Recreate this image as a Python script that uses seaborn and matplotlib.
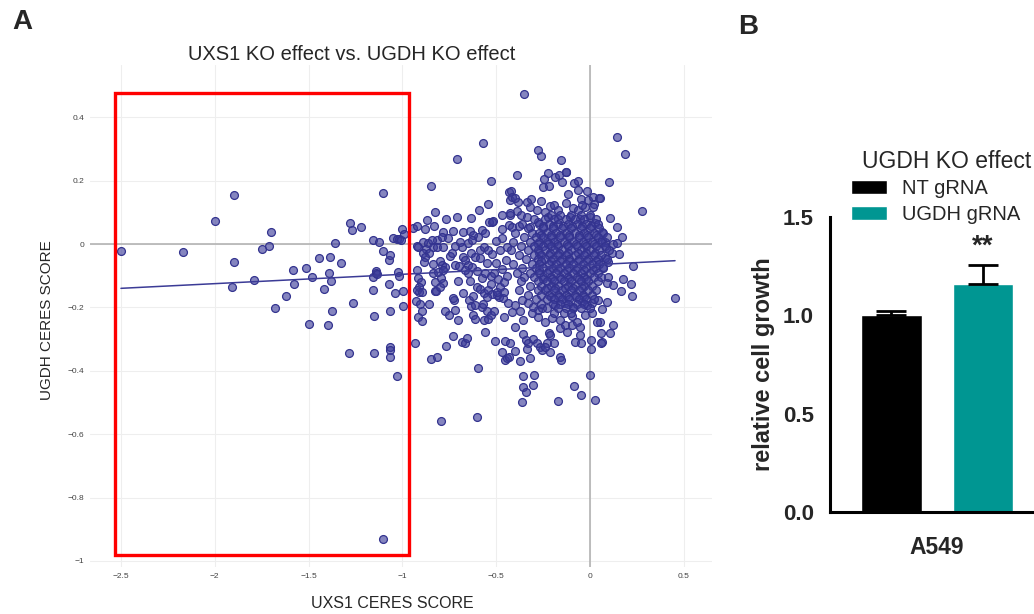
import numpy as np
import pandas as pd
import seaborn as sns
import matplotlib.pyplot as plt
from matplotlib.patches import Rectangle
from matplotlib.ticker import FuncFormatter

# ---- Panel A: UXS1 vs UGDH CERES scores (per region) ----
# points inside the red box (strong UXS1 dependency)
box_pts = [
    (-2.50, -0.023), (-2.17, -0.024), (-2.00, 0.073), (-1.90, 0.156), (-1.90, -0.056),
    (-1.91, -0.135), (-1.79, -0.113), (-1.75, -0.017), (-1.71, -0.005), (-1.70, 0.039),
    (-1.68, -0.203), (-1.62, -0.163), (-1.585, -0.081), (-1.58, -0.126), (-1.515, -0.075),
    (-1.496, -0.252), (-1.483, -0.103), (-1.446, -0.045), (-1.416, -0.143), (-1.398, -0.254),
    (-1.393, -0.091), (-1.384, -0.042), (-1.382, -0.115), (-1.375, -0.212), (-1.357, 0.004),
    (-1.327, -0.061), (-1.279, 0.068), (-1.270, 0.043), (-1.265, -0.187), (-1.221, 0.055),
    (-1.157, 0.012), (-1.158, -0.105), (-1.158, -0.146), (-1.153, -0.226), (-1.142, -0.085),
    (-1.140, -0.090), (-1.138, -0.093), (-1.126, 0.006), (-1.105, 0.160), (-1.105, -0.022),
    (-1.073, -0.126), (-1.073, -0.051), (-1.068, -0.034), (-1.064, -0.211), (-1.048, 0.018),
    (-1.038, -0.156), (-1.028, 0.016), (-1.020, 0.015), (-1.010, 0.013), (-1.022, -0.088),
    (-1.018, -0.100), (-1.002, 0.048), (-0.998, -0.147), (-0.995, -0.197), (-0.993, 0.033),
    (-1.285, -0.343), (-1.151, -0.343), (-1.068, -0.326), (-1.066, -0.333), (-1.068, -0.357),
    (-1.029, -0.415), (-1.102, -0.930),
]

# between the box and the main cluster
mid_pts = [
    (-0.945, 0.051), (-0.921, 0.058), (-0.924, -0.005), (-0.933, -0.312),
    (-0.796, -0.557), (-0.602, -0.547), (-0.599, -0.391), (-0.846, -0.364), (-0.817, -0.357),
    (-0.768, -0.323), (-0.732, -0.291), (-0.682, -0.309), (-0.666, -0.313), (-0.657, -0.295),
    (-0.929, -0.179), (-0.906, -0.190), (-0.897, -0.212), (-0.917, -0.229), (-0.896, -0.243),
    (-0.858, -0.189), (-0.825, -0.149), (-0.910, -0.151), (-0.773, -0.212), (-0.752, -0.224),
    (-0.718, -0.209), (-0.702, -0.241), (-0.725, -0.175), (-0.643, -0.177), (-0.636, -0.196),
    (-0.613, -0.192), (-0.622, -0.164), (-0.625, -0.224), (-0.611, -0.238), (-0.577, -0.198),
    (-0.569, -0.189), (-0.565, -0.240), (-0.542, -0.238), (-0.547, -0.212), (-0.529, -0.223),
    (-0.510, -0.212), (-0.457, -0.229), (-0.483, -0.166), (-0.462, -0.171), (-0.497, -0.161),
    (-0.561, -0.279), (-0.506, -0.307), (-0.469, -0.341), (-0.455, -0.366), (-0.441, -0.359),
    (-0.451, -0.306),
    (-0.711, 0.268), (-0.846, 0.184), (-0.529, 0.200), (-0.544, 0.127), (-0.590, 0.109),
    (-0.825, 0.102), (-0.709, 0.085), (-0.766, 0.078), (-0.633, 0.081), (-0.869, 0.075),
    (-0.469, 0.091), (-0.537, 0.070), (-0.515, 0.074), (-0.880, 0.049), (-0.833, 0.056),
    (-0.782, 0.038), (-0.729, 0.040), (-0.679, 0.038), (-0.640, 0.041), (-0.574, 0.045),
    (-0.561, 0.034), (-0.595, 0.021), (-0.622, 0.028), (-0.817, 0.013), (-0.790, 0.021),
    (-0.759, 0.018), (-0.888, 0.007), (-0.862, 0.004), (-0.844, 0.012), (-0.915, -0.008),
    (-0.874, -0.017), (-0.835, -0.010), (-0.814, -0.010), (-0.785, -0.010), (-0.720, -0.006),
    (-0.684, -0.008), (-0.693, 0.006), (-0.650, 0.004), (-0.631, 0.013), (-0.892, -0.029),
    (-0.857, -0.027), (-0.880, -0.042), (-0.885, -0.057), (-0.800, -0.054), (-0.791, -0.066),
    (-0.773, -0.072), (-0.835, -0.063), (-0.746, -0.038), (-0.737, -0.029), (-0.675, -0.042),
    (-0.666, -0.050), (-0.636, -0.027), (-0.613, -0.040), (-0.586, -0.019), (-0.565, -0.008),
    (-0.542, -0.019), (-0.586, -0.045), (-0.720, -0.066), (-0.697, -0.069), (-0.649, -0.066),
    (-0.631, -0.072), (-0.924, -0.082), (-0.915, -0.108), (-0.902, -0.119), (-0.910, -0.135),
    (-0.924, -0.145), (-0.897, -0.150), (-0.835, -0.091), (-0.809, -0.087), (-0.782, -0.082),
    (-0.826, -0.119), (-0.796, -0.108), (-0.782, -0.122), (-0.821, -0.148), (-0.800, -0.135),
    (-0.729, -0.171), (-0.675, -0.154), (-0.702, -0.116), (-0.640, -0.117), (-0.601, -0.135),
    (-0.577, -0.108), (-0.649, -0.091), (-0.604, -0.084), (-0.666, -0.082), (-0.586, -0.143),
    (-0.565, -0.154), (-0.542, -0.145), (-0.524, -0.158), (-0.547, -0.166), (-0.497, -0.150),
    (-0.480, -0.135), (-0.524, 0.070), (-0.469, 0.046), (-0.433, 0.060), (-0.426, 0.091),
    (-0.426, 0.139), (-0.431, 0.165), (-0.569, 0.319), (-0.350, 0.473),
    (-0.52, -0.03), (-0.50, -0.06), (-0.48, -0.02), (-0.51, -0.09), (-0.47, -0.08),
    (-0.45, -0.05), (-0.49, -0.11), (-0.46, -0.12), (-0.53, -0.10), (-0.50, 0.01),
    (-0.47, 0.02), (-0.44, -0.01), (-0.55, -0.06), (-0.56, -0.09), (-0.53, -0.125),
    (-0.44, -0.10), (-0.46, -0.15),
]

# above the main cluster
upper_pts = [
    (-0.276, 0.297), (-0.263, 0.278), (-0.156, 0.264), (-0.391, 0.218), (-0.222, 0.225),
    (-0.187, 0.212), (-0.165, 0.218), (-0.130, 0.226), (-0.151, 0.196), (-0.245, 0.204),
    (-0.252, 0.179), (-0.217, 0.183), (-0.084, 0.193), (-0.066, 0.199), (-0.421, 0.169),
    (-0.414, 0.149), (-0.382, 0.133), (-0.400, 0.144), (-0.314, 0.142), (-0.337, 0.133),
    (-0.263, 0.136), (-0.115, 0.157), (-0.062, 0.170), (-0.018, 0.168), (-0.048, 0.141),
    (-0.009, 0.139), (0.018, 0.147), (0.048, 0.146), (0.023, 0.126), (-0.213, 0.120),
    (-0.190, 0.123), (-0.169, 0.107), (-0.130, 0.131), (-0.089, 0.113), (-0.066, 0.109),
    (-0.027, 0.116), (-0.041, 0.123), (-0.240, 0.102), (-0.284, 0.109), (-0.320, 0.116),
    (-0.426, 0.097), (-0.391, 0.105), (-0.368, 0.091), (-0.337, 0.086), (-0.417, 0.055),
    (-0.378, 0.057), (-0.320, 0.053), (-0.276, 0.070), (-0.222, 0.086), (-0.169, 0.078),
    (-0.107, 0.086), (-0.053, 0.080), (0.000, 0.086), (0.027, 0.065), (-0.128, 0.228),
    (0.018, 0.118),
]

# right of the zero line
right_pts = [
    (0.142, 0.339), (0.185, 0.283), (0.100, 0.195), (0.277, 0.104), (0.053, 0.146),
    (0.107, 0.081), (0.146, 0.055), (0.169, 0.023), (0.062, 0.039), (0.080, 0.007),
    (0.124, 0.000), (0.142, 0.004), (0.156, -0.032), (0.116, -0.027), (0.085, -0.014),
    (0.062, 0.013), (0.228, -0.068), (0.178, -0.111), (0.217, -0.126), (0.165, -0.147),
    (0.222, -0.164), (0.453, -0.171), (0.098, -0.103), (0.124, -0.129), (0.089, -0.124),
    (0.071, -0.072), (0.098, -0.056), (0.080, -0.045), (0.092, -0.182), (0.062, -0.206),
    (0.121, -0.256), (0.107, -0.282), (0.057, -0.280), (0.062, -0.310), (0.053, -0.245),
]

# below the main cluster
low_pts = [
    (-0.359, -0.417), (-0.299, -0.413), (-0.355, -0.450), (-0.341, -0.466), (-0.364, -0.499),
    (-0.302, -0.445), (-0.169, -0.494), (-0.085, -0.449), (-0.048, -0.475), (0.002, -0.413),
    (0.027, -0.493),
    (-0.400, -0.263), (-0.356, -0.284), (-0.343, -0.303), (-0.329, -0.313), (-0.337, -0.332),
    (-0.320, -0.361), (-0.373, -0.368), (-0.400, -0.338), (-0.426, -0.311), (-0.432, -0.355),
    (-0.302, -0.301), (-0.284, -0.313), (-0.267, -0.324), (-0.254, -0.334), (-0.231, -0.311),
    (-0.213, -0.340), (-0.190, -0.313), (-0.158, -0.355), (-0.155, -0.366), (-0.240, -0.324),
    (-0.219, -0.280), (-0.213, -0.287), (-0.160, -0.266), (-0.124, -0.277), (-0.133, -0.256),
    (-0.098, -0.256), (-0.053, -0.261), (-0.053, -0.287), (-0.080, -0.308), (-0.048, -0.313),
    (0.005, -0.303), (0.005, -0.332), (0.059, -0.311),
    (-0.417, -0.213), (-0.373, -0.210), (-0.356, -0.240), (-0.311, -0.217), (-0.276, -0.229),
    (-0.240, -0.245), (-0.276, -0.208), (-0.204, -0.234), (-0.160, -0.240), (-0.098, -0.227),
    (-0.071, -0.245), (-0.027, -0.224), (0.009, -0.219), (0.036, -0.245), (0.044, -0.177),
    (0.012, -0.187), (-0.018, -0.192),
    (-0.435, -0.187), (-0.400, -0.192), (-0.364, -0.177), (-0.329, -0.187), (-0.302, -0.198),
    (-0.258, -0.203), (-0.187, -0.192), (-0.133, -0.187), (-0.089, -0.198), (-0.044, -0.182),
]

# dense core, written row by row (UGDH score, list of UXS1 scores)
core_rows = [
    (0.092, [-0.21, -0.16, -0.10, -0.05, 0.00]),
    (0.078, [-0.30, -0.24, -0.19, -0.13, -0.08, -0.03, 0.03]),
    (0.064, [-0.36, -0.27, -0.22, -0.17, -0.12, -0.07, -0.02, 0.04]),
    (0.057, [-0.25, -0.195, -0.145, -0.095, -0.045, 0.005]),
    (0.050, [-0.33, -0.25, -0.20, -0.15, -0.10, -0.05, 0.00, 0.05]),
    (0.036, [-0.40, -0.31, -0.27, -0.23, -0.18, -0.13, -0.08, -0.03, 0.02, 0.07]),
    (0.029, [-0.26, -0.21, -0.16, -0.11, -0.06, -0.015, 0.03]),
    (0.022, [-0.35, -0.29, -0.25, -0.21, -0.16, -0.11, -0.06, -0.01, 0.04, 0.09]),
    (0.008, [-0.41, -0.32, -0.27, -0.23, -0.19, -0.14, -0.09, -0.04, 0.01, 0.06]),
    (0.001, [-0.28, -0.225, -0.175, -0.125, -0.075, -0.025, 0.02]),
    (-0.006, [-0.37, -0.30, -0.25, -0.21, -0.17, -0.12, -0.07, -0.02, 0.03, 0.08]),
    (-0.020, [-0.42, -0.33, -0.28, -0.24, -0.19, -0.15, -0.10, -0.05, 0.00, 0.05, 0.10]),
    (-0.027, [-0.27, -0.215, -0.165, -0.115, -0.065, -0.02, 0.025]),
    (-0.034, [-0.38, -0.30, -0.26, -0.22, -0.17, -0.13, -0.08, -0.03, 0.02, 0.06]),
    (-0.048, [-0.34, -0.28, -0.24, -0.20, -0.15, -0.11, -0.06, -0.01, 0.04, 0.09]),
    (-0.055, [-0.26, -0.21, -0.16, -0.11, -0.065, -0.015, 0.03]),
    (-0.062, [-0.41, -0.31, -0.27, -0.22, -0.18, -0.13, -0.09, -0.04, 0.01, 0.05]),
    (-0.076, [-0.36, -0.29, -0.25, -0.20, -0.16, -0.11, -0.07, -0.02, 0.03, 0.07]),
    (-0.083, [-0.27, -0.22, -0.17, -0.125, -0.075, -0.03, 0.015]),
    (-0.090, [-0.39, -0.32, -0.27, -0.23, -0.18, -0.14, -0.09, -0.05, 0.00, 0.04]),
    (-0.104, [-0.35, -0.30, -0.25, -0.21, -0.16, -0.12, -0.07, -0.03, 0.02, 0.06]),
    (-0.111, [-0.25, -0.205, -0.155, -0.11, -0.06, -0.02]),
    (-0.118, [-0.37, -0.28, -0.23, -0.19, -0.14, -0.10, -0.05, -0.01, 0.04]),
    (-0.132, [-0.32, -0.26, -0.21, -0.17, -0.12, -0.08, -0.03, 0.01]),
    (-0.139, [-0.23, -0.185, -0.135, -0.09, -0.045]),
    (-0.146, [-0.38, -0.28, -0.24, -0.19, -0.15, -0.10, -0.06, -0.01, 0.03]),
    (-0.160, [-0.33, -0.26, -0.22, -0.17, -0.13, -0.08, -0.04, 0.01]),
    (-0.167, [-0.21, -0.165, -0.12, -0.075, -0.03]),
    (-0.174, [-0.29, -0.23, -0.19, -0.15, -0.11, -0.06, -0.02, 0.02]),
    (-0.188, [-0.26, -0.20, -0.16, -0.12, -0.07, -0.03]),
    (-0.202, [-0.23, -0.17, -0.13, -0.09, -0.05, 0.00]),
    (-0.216, [-0.19, -0.14, -0.10]),
]

# red selection box (UXS1 range / UGDH range)
box_x = (-2.53, -0.965)
box_y = (-0.981, 0.476)

# ---- Panel B: relative cell growth of A549 ----
cell_line = ['A549', 'A549']
grna = ['NT gRNA', 'UGDH gRNA']
growth = [1.00, 1.16]
growth_err = [0.02, 0.095]

core_pts = [(x, y) for y, xs in core_rows for x in xs]
all_pts = box_pts + mid_pts + upper_pts + right_pts + low_pts + core_pts
scores = pd.DataFrame(all_pts, columns=['uxs1', 'ugdh'])
growth_df = pd.DataFrame({'cell': cell_line, 'grna': grna, 'growth': growth})

sns.set_style('white')
plt.rcParams['font.family'] = ['Liberation Sans', 'DejaVu Sans']

W, H = 1034, 614
fig = plt.figure(figsize=(W / 100, H / 100), dpi=100)

# panel A
axA = fig.add_axes([90 / W, (H - 567) / H, 622 / W, (567 - 65) / H])
axA.grid(True, color='#eeeeee', lw=0.8, zorder=0)
axA.axhline(0, color='#b3b3b3', lw=1.2, zorder=1)
axA.axvline(0, color='#b3b3b3', lw=1.2, zorder=1)
sns.scatterplot(data=scores, x='uxs1', y='ugdh', ax=axA, s=32, linewidth=0.9, zorder=3)
dots = axA.collections[-1]
dots.set_alpha(None)
dots.set_facecolor((0.23, 0.23, 0.60, 0.62))
dots.set_edgecolor((0.20, 0.20, 0.56, 1.0))
sns.regplot(data=scores, x='uxs1', y='ugdh', ax=axA, scatter=False, ci=None,
            line_kws=dict(color='#3b3b96', lw=1.1, zorder=4))
axA.add_patch(Rectangle((box_x[0], box_y[0]), box_x[1] - box_x[0], box_y[1] - box_y[0],
                        fill=False, ec='#ff0000', lw=2.4, zorder=6, clip_on=False))
axA.set_xlim(-2.665, 0.65)
axA.set_ylim(-1.019, 0.565)
axA.set_xticks([-2.5, -2, -1.5, -1, -0.5, 0, 0.5])
axA.set_yticks([0.4, 0.2, 0, -0.2, -0.4, -0.6, -0.8, -1])
fmt = FuncFormatter(lambda v, p: ('%g' % v).replace('-', '\u2212'))
axA.xaxis.set_major_formatter(fmt)
axA.yaxis.set_major_formatter(fmt)
axA.tick_params(length=0, labelsize=6, labelcolor='#444444', pad=4)
axA.set_xlabel('')
axA.set_ylabel('')
sns.despine(ax=axA, left=True, bottom=True)

fig.text(352 / W, 1 - 54 / H, 'UXS1 KO effect vs. UGDH KO effect', ha='center', va='center', fontsize=14.5)
fig.text(392 / W, 1 - 603 / H, 'UXS1 CERES SCORE', ha='center', va='center', fontsize=11.5)
fig.text(47 / W, 1 - 320 / H, 'UGDH CERES SCORE', ha='center', va='center', fontsize=11, rotation=90)
fig.text(22 / W, 1 - 22 / H, 'A', ha='center', va='center', fontsize=20, weight='bold')
fig.text(748 / W, 1 - 27 / H, 'B', ha='center', va='center', fontsize=20, weight='bold')

# panel B
px_per_unit = 228.75
x_left = -0.468
axB = fig.add_axes([830 / W, (H - 512) / H, 270 / W, 295 / H])
sns.barplot(data=growth_df, x='cell', y='growth', hue='grna', palette=['black', '#009692'],
            saturation=1, width=0.8, gap=0.34, errorbar=None, ax=axB)
handles, labels = axB.get_legend_handles_labels()
axB.legend_.remove()
for bar, err in zip(axB.patches, growth_err):
    xc = bar.get_x() + bar.get_width() / 2
    axB.errorbar(xc, bar.get_height(), yerr=[[0], [err]], color='black', lw=2,
                 capsize=10.5, capthick=2, zorder=4)
teal = axB.patches[1]
axB.text(teal.get_x() + teal.get_width() / 2, 1.35, '**', ha='center', va='center',
         fontsize=20, weight='bold')
axB.set_xlim(x_left, x_left + 270 / px_per_unit)
axB.set_ylim(0, 1.5)
axB.set_yticks([0, 0.5, 1.0, 1.5])
axB.set_yticklabels(['0.0', '0.5', '1.0', '1.5'], fontsize=16, weight='bold')
axB.set_xticks([0])
axB.set_xticklabels(['A549'], fontsize=16.5, weight='bold')
axB.set_xlabel('')
axB.set_ylabel('relative cell growth', fontsize=17, weight='bold', labelpad=6)
axB.tick_params(axis='y', length=8.5, width=2.2, color='black', direction='out', pad=3)
axB.tick_params(axis='x', length=7.5, width=2.2, color='black', direction='out', pad=10)
for side in ['left', 'bottom']:
    axB.spines[side].set_linewidth(2.2)
    axB.spines[side].set_color('black')
sns.despine(ax=axB)
axB.spines['left'].set_bounds(0, 1.5)

fig.text(862 / W, 1 - 162 / H, 'UGDH KO effect', ha='left', va='center', fontsize=16.5)
fig.legend(handles, labels, loc='upper left', bbox_to_anchor=(851 / W, 1 - 179 / H),
           frameon=False, fontsize=14.5, handlelength=1.8, handleheight=0.65,
           labelspacing=0.35, handletextpad=0.75, borderaxespad=0, borderpad=0)

fig.savefig('out.png', dpi=100)
